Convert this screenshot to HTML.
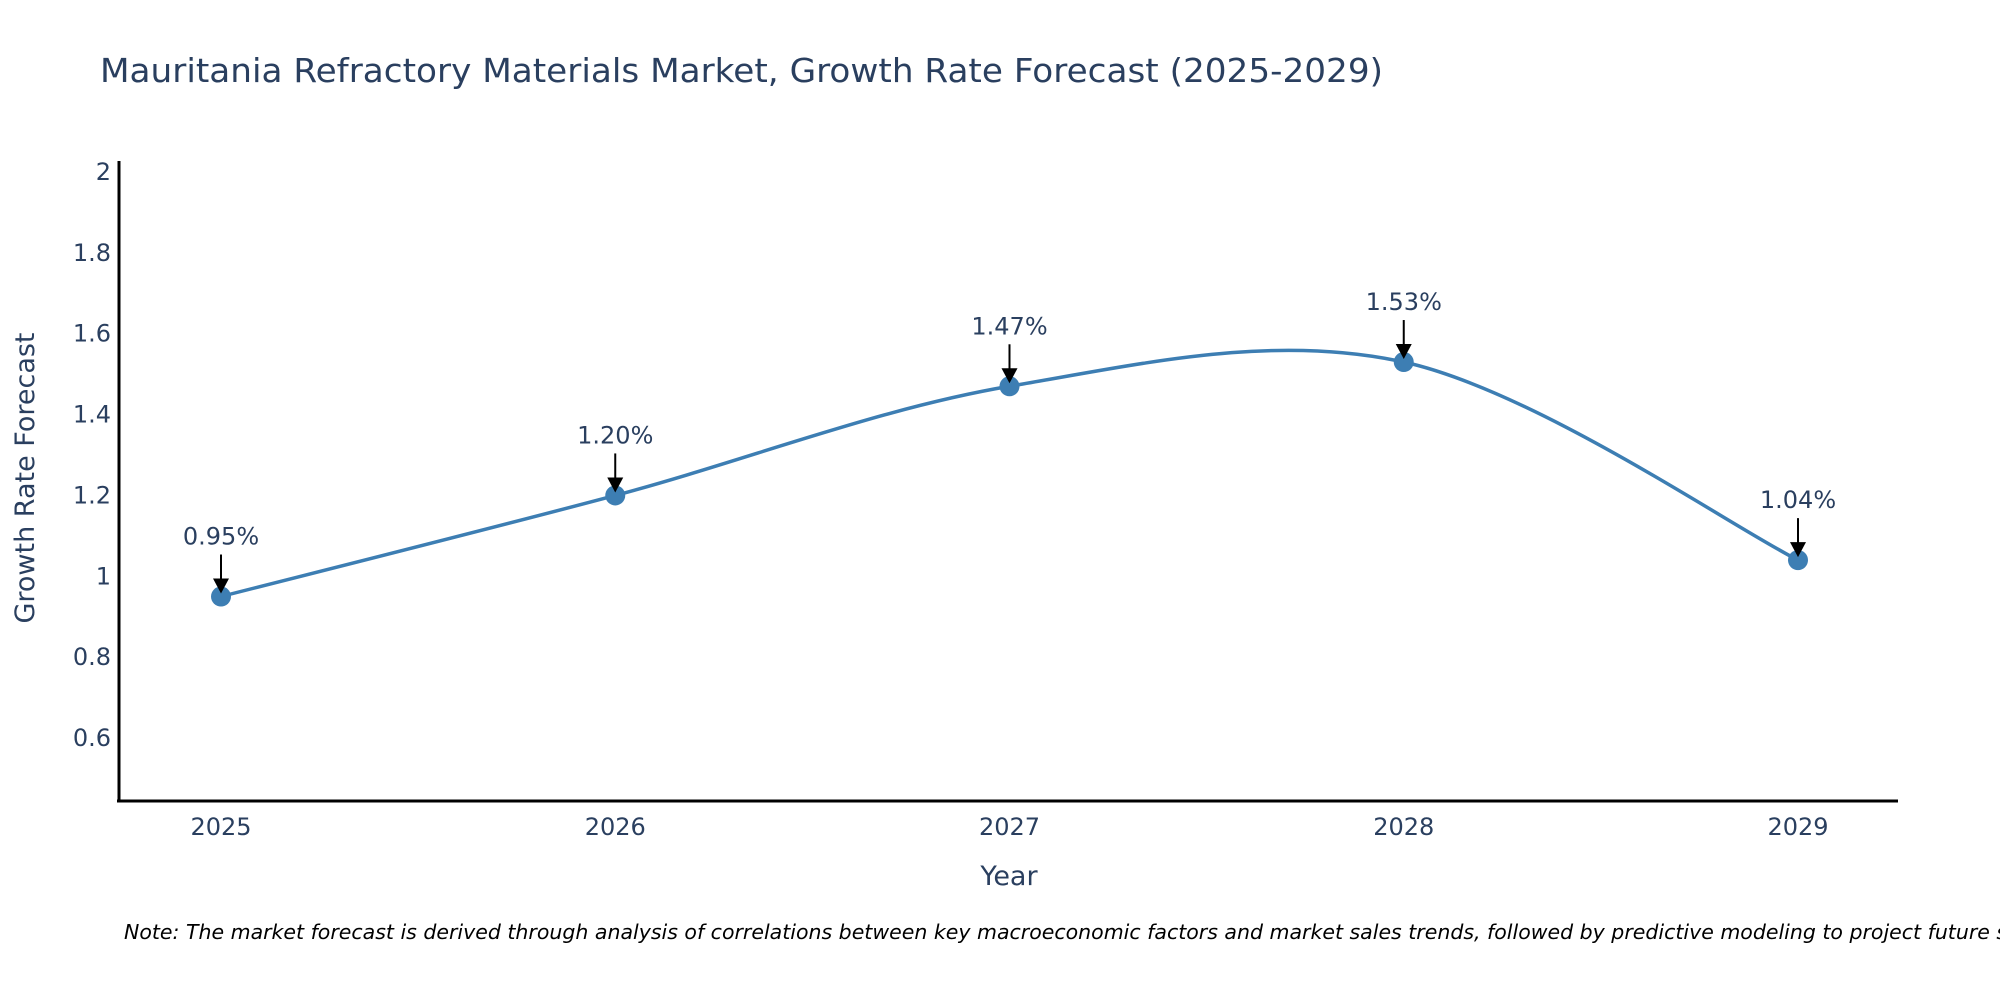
<!DOCTYPE html>
<html><head><meta charset="utf-8"><style>
html,body{margin:0;padding:0;background:#fff;width:2000px;height:1000px;overflow:hidden}
svg{display:block;font-family:"DejaVu Sans","Liberation Sans",sans-serif}
</style></head><body>
<svg id="chart" width="2000" height="1000" viewBox="0 0 2000 1000" xmlns="http://www.w3.org/2000/svg">
<text x="100" y="82" font-size="33" fill="#2a3f5f" textLength="1283" lengthAdjust="spacingAndGlyphs">Mauritania Refractory Materials Market, Growth Rate Forecast (2025-2029)</text>
<g id="yticks"></g>
<g id="xticks"></g>
<line x1="119" y1="161" x2="119" y2="802" stroke="#000" stroke-width="3"/>
<line x1="117" y1="801" x2="1898" y2="801" stroke="#000" stroke-width="3"/>
<text transform="translate(34,478) rotate(-90)" text-anchor="middle" font-size="27" fill="#2a3f5f">Growth Rate Forecast</text>
<text x="1009" y="885" text-anchor="middle" font-size="27" fill="#2a3f5f">Year</text>
<g id="series"></g>
<g id="annos"></g>
<text x="124" y="939" font-size="20.5" font-style="italic" fill="#000">Note: The market forecast is derived through analysis of correlations between key macroeconomic factors and market sales trends, followed by predictive modeling to project future sales.</text>
</svg>
<script>
const years = [2025, 2026, 2027, 2028, 2029];
const growth = [0.95, 1.20, 1.47, 1.53, 1.04];
const labels = ["0.95%", "1.20%", "1.47%", "1.53%", "1.04%"];
const yTickValues = [0.6, 0.8, 1, 1.2, 1.4, 1.6, 1.8, 2];
const yTickLabels = ["0.6", "0.8", "1", "1.2", "1.4", "1.6", "1.8", "2"];

const NS = "http://www.w3.org/2000/svg";
function xs(v){ return 221 + (v - 2025) * 394.25; }
function ys(v){ return 172 + (2 - v) * 404.3; }
function mk(tag, attrs, parent){ const e=document.createElementNS(NS,tag); for(const k in attrs) e.setAttribute(k,attrs[k]); parent.appendChild(e); return e; }

const yt = document.getElementById('yticks');
yTickValues.forEach((v,i)=>{
  const t = mk('text',{x:111,y:ys(v)+8,'text-anchor':'end','font-size':24,fill:'#2a3f5f'},yt);
  
  
  t.textContent = yTickLabels[i];
});
const xt = document.getElementById('xticks');
years.forEach(y=>{
  const t = mk('text',{x:xs(y),y:835,'text-anchor':'middle','font-size':24,fill:'#2a3f5f'},xt);
  
  
  t.textContent = String(y);
});

const pts = years.map((y,i)=>[xs(y), ys(growth[i])]);
let d = `M${pts[0][0]},${pts[0][1]}`;
for(let i=0;i<pts.length-1;i++){
  const p0=pts[Math.max(0,i-1)], p1=pts[i], p2=pts[i+1], p3=pts[Math.min(pts.length-1,i+2)];
  const c1=[p1[0]+(p2[0]-p0[0])/6, p1[1]+(p2[1]-p0[1])/6];
  const c2=[p2[0]-(p3[0]-p1[0])/6, p2[1]-(p3[1]-p1[1])/6];
  d += ` C${c1[0]},${c1[1]} ${c2[0]},${c2[1]} ${p2[0]},${p2[1]}`;
}
const ser = document.getElementById('series');
const line = mk('path',{d:d,fill:'none',stroke:'#3d7eb3','stroke-width':3.5},ser);


pts.forEach((p,i)=>{
  const c = mk('circle',{cx:p[0],cy:p[1],r:10,fill:'#3d7eb3'},ser);
  
  
});
const an = document.getElementById('annos');
pts.forEach((p,i)=>{
  const l = mk('line',{x1:p[0],y1:p[1]-42,x2:p[0],y2:p[1]-16,stroke:'#000','stroke-width':2},an);
  
  
  const h = mk('polygon',{points:`${p[0]-8},${p[1]-18} ${p[0]+8},${p[1]-18} ${p[0]},${p[1]-3}`,fill:'#000'},an);
  
  
  const t = mk('text',{x:p[0],y:p[1]-52,'text-anchor':'middle','font-size':24,fill:'#2a3f5f'},an);
  
  
  t.textContent = labels[i];
});
</script>
</body></html>
